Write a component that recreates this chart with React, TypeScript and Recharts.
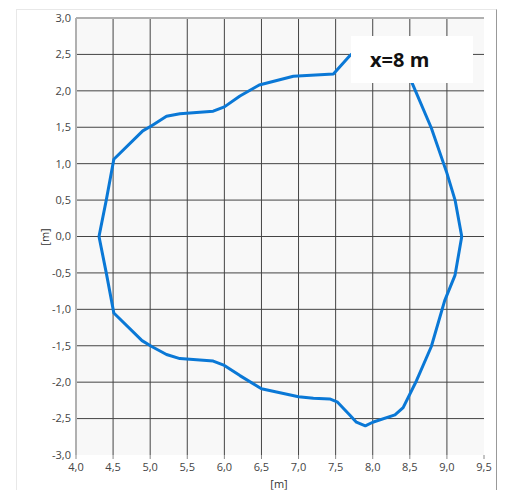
import { LineChart, Line, XAxis, YAxis, CartesianGrid, ReferenceLine, Label } from "recharts"

const contourX = [
  4.31, 4.41, 4.51, 4.9, 5.02, 5.22, 5.4, 5.85, 6.0, 6.21, 6.47, 6.93, 7.47, 7.69, 7.78, 7.9, 8.0, 8.3, 8.41, 8.53, 8.79, 9.0, 9.11, 9.2,
  9.11, 8.97, 8.79, 8.59, 8.41, 8.3, 8.0, 7.9, 7.78, 7.69, 7.52, 7.42, 7.2, 7.0, 6.5, 6.21, 6.0, 5.85, 5.4, 5.22, 5.02, 4.89, 4.51, 4.41, 4.31,
]
const contourY = [
  0.0, 0.51, 1.06, 1.45, 1.52, 1.65, 1.685, 1.72, 1.78, 1.93, 2.08, 2.2, 2.23, 2.48, 2.56, 2.6, 2.56, 2.46, 2.36, 2.11, 1.49, 0.87, 0.5, 0.0,
  -0.53, -0.88, -1.51, -1.98, -2.35, -2.45, -2.55, -2.6, -2.55, -2.45, -2.27, -2.23, -2.22, -2.2, -2.09, -1.91, -1.77, -1.71, -1.676, -1.62, -1.51, -1.43, -1.05, -0.51, 0.0,
]
const xTicks = [4.0, 4.5, 5.0, 5.5, 6.0, 6.5, 7.0, 7.5, 8.0, 8.5, 9.0, 9.5]
const yTicks = [-3.0, -2.5, -2.0, -1.5, -1.0, -0.5, 0.0, 0.5, 1.0, 1.5, 2.0, 2.5, 3.0]
const xGrid = [4.5, 5.0, 5.5, 6.0, 6.5, 7.0, 7.5, 8.0, 8.5, 9.0]
const yGrid = [-2.5, -2.0, -1.5, -1.0, -0.5, 0.0, 0.5, 1.0, 1.5, 2.0, 2.5]

const data = contourX.map((x, i) => ({ x, y: contourY[i] }))

const fmt = (v: number) => v.toFixed(1).replace(".", ",")
const font = "'Open Sans', 'Noto Sans', sans-serif"
const tickStyle = { fill: "#444", fontSize: 11, fontFamily: font }

export default function App() {
  return (
    <div style={{ position: "absolute", left: 0, top: 0, width: 505, height: 490, background: "#fff", overflow: "hidden" }}>
      <div
        style={{
          position: "absolute",
          left: 16,
          top: 9,
          width: 479,
          height: 490,
          borderTop: "1px solid #e8e8e8",
          borderLeft: "1px solid #e8e8e8",
          borderRight: "1px solid #999",
        }}
      />
      <LineChart width={505} height={490} data={data} margin={{ top: 18, right: 21, left: 0, bottom: 0 }}>
        <CartesianGrid
          stroke="#444"
          strokeWidth={1}
          fill="#f8f8f8"
          verticalValues={xGrid}
          horizontalValues={yGrid}
        />
        <ReferenceLine y={3} stroke="#b0b0b0" strokeWidth={2} ifOverflow="extendDomain" />
        <XAxis
          type="number"
          dataKey="x"
          domain={[4, 9.5]}
          ticks={xTicks}
          tickFormatter={fmt}
          height={35}
          axisLine={false}
          tickLine={{ stroke: "#888" }}
          tickSize={4}
          tickMargin={4}
          tick={tickStyle}
          interval={0}
        >
          <Label
            content={() => (
              <text x={279} y={488} textAnchor="middle" fill="#333" fontSize={11} fontFamily={font}>
                [m]
              </text>
            )}
          />
        </XAxis>
        <YAxis
          type="number"
          domain={[-3, 3]}
          ticks={yTicks}
          tickFormatter={fmt}
          width={76}
          axisLine={{ stroke: "#b0b0b0", strokeWidth: 2 }}
          tickLine={false}
          tickSize={0}
          tickMargin={5}
          tick={tickStyle}
          interval={0}
        >
          <Label
            content={() => (
              <text
                x={49}
                y={237}
                textAnchor="middle"
                fill="#333"
                fontSize={11}
                fontFamily={font}
                transform="rotate(-90 49 237)"
              >
                [m]
              </text>
            )}
          />
        </YAxis>
        <Line
          type="linear"
          dataKey="y"
          stroke="#0a78d6"
          strokeWidth={3}
          strokeLinejoin="round"
          dot={false}
          activeDot={false}
          isAnimationActive={false}
        />
      </LineChart>
      <div
        style={{
          position: "absolute",
          left: 351,
          top: 36,
          width: 122,
          height: 47,
          background: "#fff",
          display: "flex",
          alignItems: "center",
          paddingLeft: 19,
          boxSizing: "border-box",
          fontFamily: font,
          fontWeight: 700,
          fontSize: 20,
          color: "#111",
        }}
      >
        x=8 m
      </div>
    </div>
  )
}
